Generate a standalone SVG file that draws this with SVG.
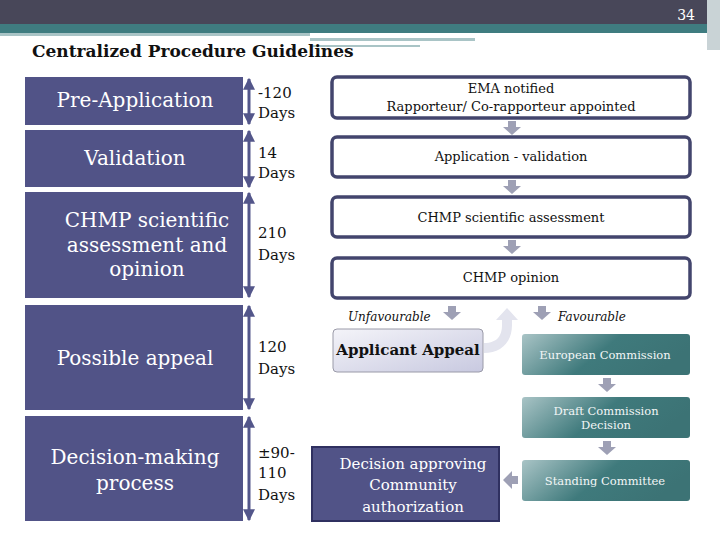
<svg xmlns="http://www.w3.org/2000/svg" width="720" height="540" viewBox="0 0 720 540" font-family="'DejaVu Serif','Liberation Serif',serif">
<style>
text{font-family:"DejaVu Serif","Liberation Serif",serif}
.lbox{fill:#515387}
.ltxt{fill:#ffffff;font-size:20px;text-anchor:middle}
.days{fill:#111;font-size:15px}
.wbox{fill:#ffffff;stroke:#43456d;stroke-width:3.5}
.wtxt{fill:#111;font-size:13px;text-anchor:middle}
.teal{fill:url(#tg)}
.ttxt{fill:#f2f6f6;font-size:11.5px;text-anchor:middle}
.dar{stroke:#53568a;stroke-width:3;fill:none}
.garr{fill:#9ea0b5}
</style>
<defs>
<linearGradient id="tg" x1="0" y1="0" x2="1" y2="0.3">
<stop offset="0" stop-color="#a9c4c6"/><stop offset="0.55" stop-color="#3f7a7c"/><stop offset="1" stop-color="#3c7375"/>
</linearGradient>
<linearGradient id="ag" x1="0" y1="0" x2="1" y2="1">
<stop offset="0" stop-color="#f4f4f9"/><stop offset="1" stop-color="#c8c9e0"/>
</linearGradient>
<marker id="ah" viewBox="0 0 10 10" refX="9" refY="5" markerWidth="4" markerHeight="4" orient="auto-start-reverse"><path d="M0,0L10,5L0,10z" fill="#53568a"/></marker>
</defs>
<rect width="720" height="540" fill="#fff"/>
<rect x="0" y="0" width="720" height="24" fill="#484759"/>
<rect x="0" y="24" width="720" height="9" fill="#3f7c80"/>
<rect x="0" y="33" width="310" height="3" fill="#a9c4c6"/>
<rect x="310" y="38" width="165" height="3" fill="#a9c4c6"/>
<rect x="310" y="45" width="110" height="2" fill="#a9c4c6"/>
<rect x="707" y="0" width="13" height="50" fill="#c9d3d6"/>
<text x="695" y="20" font-size="14" fill="#ffffff" text-anchor="end">34</text>
<text x="32" y="57" font-size="17" font-weight="bold" fill="#111">Centralized Procedure Guidelines</text>

<g id="phase-preapp"><rect class="lbox" x="25" y="77" width="218" height="48"/><text class="ltxt" x="135" y="107">Pre-Application</text></g>
<g id="phase-validation"><rect class="lbox" x="25" y="130" width="218" height="57"/><text class="ltxt" x="135" y="165">Validation</text></g>
<g id="phase-chmp"><rect class="lbox" x="25" y="192" width="218" height="106"/><text class="ltxt" x="147" y="227">CHMP scientific</text><text class="ltxt" x="147" y="252">assessment and</text><text class="ltxt" x="147" y="276">opinion</text></g>
<g id="phase-appeal"><rect class="lbox" x="25" y="305" width="218" height="105"/><text class="ltxt" x="135" y="365">Possible appeal</text></g>
<g id="phase-decision"><rect class="lbox" x="25" y="416" width="218" height="105"/><text class="ltxt" x="135" y="464">Decision-making</text><text class="ltxt" x="135" y="490">process</text></g>

<g id="days">
<text class="days" x="258" y="98">-120</text><text class="days" x="258" y="118">Days</text>
<text class="days" x="258" y="158">14</text><text class="days" x="258" y="178">Days</text>
<text class="days" x="258" y="238">210</text><text class="days" x="258" y="260">Days</text>
<text class="days" x="258" y="352">120</text><text class="days" x="258" y="374">Days</text>
<text class="days" x="258" y="458">±90-</text><text class="days" x="258" y="478">110</text><text class="days" x="258" y="500">Days</text>
</g>

<g id="connectors">
<line class="dar" x1="249" y1="79" x2="249" y2="124" marker-start="url(#ah)" marker-end="url(#ah)"/>
<line class="dar" x1="249" y1="131" x2="249" y2="187" marker-start="url(#ah)" marker-end="url(#ah)"/>
<line class="dar" x1="249" y1="193" x2="249" y2="297" marker-start="url(#ah)" marker-end="url(#ah)"/>
<line class="dar" x1="249" y1="306" x2="249" y2="409" marker-start="url(#ah)" marker-end="url(#ah)"/>
<line class="dar" x1="249" y1="417" x2="249" y2="520" marker-start="url(#ah)" marker-end="url(#ah)"/>
<path class="garr" d="M508,121h8v6h5l-9,8l-9,-8h5z"/>
<path class="garr" d="M508,180h8v6h5l-9,8l-9,-8h5z"/>
<path class="garr" d="M508,240h8v6h5l-9,8l-9,-8h5z"/>
<path class="garr" d="M448,306h8v6h5l-9,8l-9,-8h5z"/>
<path class="garr" d="M538,306h8v6h5l-9,8l-9,-8h5z"/>
<path class="garr" d="M603,378h8v6h5l-9,8l-9,-8h5z"/>
<path class="garr" d="M603,441h8v6h5l-9,8l-9,-8h5z"/>
<path class="garr" d="M518,476v8h-6v5l-9,-9l9,-9v5z"/>
<path d="M484,343c14,0 18,-8 18,-18v-5h-6l11,-12l11,12h-6v5c0,18 -12,28 -28,28z" fill="#e3e4ee"/>
</g>

<g id="n-ema"><rect class="wbox" x="332" y="77" width="358" height="41" rx="5"/><text class="wtxt" x="511" y="93">EMA notified</text><text class="wtxt" x="511" y="111">Rapporteur/ Co-rapporteur appointed</text></g>
<g id="n-validation"><rect class="wbox" x="332" y="137" width="358" height="40" rx="5"/><text class="wtxt" x="511" y="161">Application - validation</text></g>
<g id="n-assess"><rect class="wbox" x="332" y="197" width="358" height="40" rx="5"/><text class="wtxt" x="511" y="222">CHMP scientific assessment</text></g>
<g id="n-opinion"><rect class="wbox" x="332" y="258" width="358" height="40" rx="5"/><text class="wtxt" x="511" y="282">CHMP opinion</text></g>
<text x="348" y="321" font-size="12" font-style="italic" fill="#111">Unfavourable</text>
<text x="558" y="321" font-size="12" font-style="italic" fill="#111">Favourable</text>
<g id="n-appeal"><rect x="333" y="329" width="150" height="43" rx="4" fill="url(#ag)" stroke="#9a9aa8"/><text x="408" y="355" font-size="15" font-weight="bold" text-anchor="middle" fill="#111">Applicant Appeal</text></g>
<g id="n-ec"><rect class="teal" x="522" y="334" width="168" height="41" rx="3"/><text class="ttxt" x="605" y="359">European Commission</text></g>
<g id="n-draft"><rect class="teal" x="522" y="397" width="168" height="41" rx="3"/><text class="ttxt" x="606" y="415">Draft Commission</text><text class="ttxt" x="606" y="429">Decision</text></g>
<g id="n-standing"><rect class="teal" x="522" y="460" width="168" height="41" rx="3"/><text class="ttxt" x="605" y="485">Standing Committee</text></g>
<g id="n-decision"><rect x="312" y="447" width="187" height="74" fill="#515387" stroke="#2f3060" stroke-width="2"/><text font-size="15" fill="#fff" text-anchor="middle"><tspan x="413" y="469">Decision approving</tspan><tspan x="413" y="490">Community</tspan><tspan x="413" y="512">authorization</tspan></text></g>
</svg>
